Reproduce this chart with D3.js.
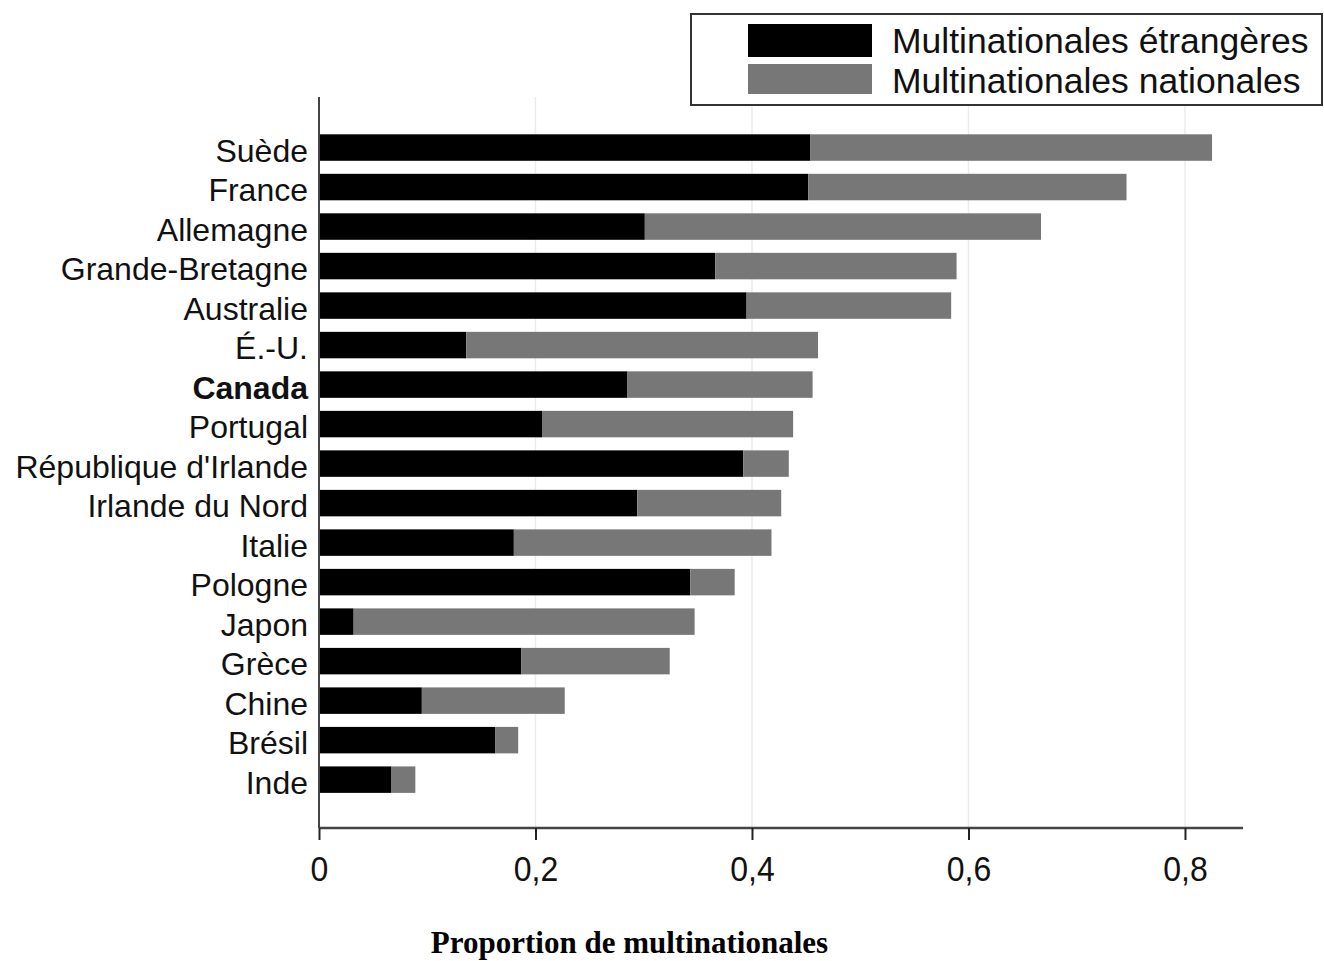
<!DOCTYPE html>
<html>
<head>
<meta charset="utf-8">
<script src="https://cdn.jsdelivr.net/npm/d3@7"></script>
<style>
  html, body { margin: 0; padding: 0; background: #fff; }
  svg { display: block; }
</style>
</head>
<body>
<svg id="chart" width="1324" height="961"></svg>
<script>
const countries = ["Suède", "France", "Allemagne", "Grande-Bretagne", "Australie", "É.-U.", "Canada", "Portugal", "République d'Irlande", "Irlande du Nord", "Italie", "Pologne", "Japon", "Grèce", "Chine", "Brésil", "Inde"];
const foreignMNE = [0.454, 0.452, 0.301, 0.366, 0.395, 0.136, 0.285, 0.206, 0.392, 0.294, 0.180, 0.343, 0.032, 0.187, 0.095, 0.163, 0.067];
const domesticMNE = [0.371, 0.294, 0.366, 0.223, 0.189, 0.325, 0.171, 0.232, 0.042, 0.133, 0.238, 0.041, 0.315, 0.137, 0.132, 0.021, 0.022];
const seriesNames = ["Multinationales étrangères", "Multinationales nationales"];
const seriesColors = ["#000000", "#777777"];
const xTicks = [0, 0.2, 0.4, 0.6, 0.8];
const xMax = 0.8536;
const highlighted = "Canada";
const xTitle = "Proportion de multinationales";

(function () {
const svg = d3.select("#chart");
const pLeft = 319, pRight = 1243, pTop = 97, pBottom = 828;

const x = d3.scaleLinear().domain([0, xMax]).range([pLeft, pRight]);
const y = d3.scaleBand().domain(countries).range([127.8, 799.4]).paddingInner(0.33).paddingOuter(0.165);

// gridlines
svg.append("g").selectAll("line").data(xTicks.filter(d => d > 0)).join("line")
  .attr("x1", d => x(d)).attr("x2", d => x(d))
  .attr("y1", pTop).attr("y2", pBottom)
  .attr("stroke", "#ececec").attr("stroke-width", 1.5);

// stacked bars
const rows = countries.map((c, i) => ({ c, a: foreignMNE[i], b: domesticMNE[i] }));
const stack = d3.stack().keys(["a", "b"])(rows);
svg.append("g").selectAll("g").data(stack).join("g")
  .attr("fill", (d, i) => seriesColors[i])
  .selectAll("rect").data(d => d).join("rect")
  .attr("x", d => x(d[0]))
  .attr("width", d => x(d[1]) - x(d[0]))
  .attr("y", d => y(d.data.c))
  .attr("height", y.bandwidth());

// y axis line
svg.append("line").attr("x1", pLeft).attr("x2", pLeft).attr("y1", pTop).attr("y2", pBottom)
  .attr("stroke", "#444").attr("stroke-width", 2);

// y labels
svg.append("g").selectAll("text").data(countries).join("text")
  .attr("x", 308)
  .attr("y", d => y(d) + y.bandwidth() / 2 + 14)
  .attr("text-anchor", "end")
  .attr("font-family", "Liberation Sans, Arial, sans-serif")
  .attr("font-size", 32)
  .attr("font-weight", d => d === highlighted ? "bold" : "normal")
  .attr("fill", "#111")
  .text(d => d);

// x axis
const xAxis = d3.axisBottom(x).tickValues(xTicks).tickSize(12).tickPadding(14)
  .tickFormat(d => d === 0 ? "0" : d3.format(".1f")(d).replace(".", ","));
const gx = svg.append("g").attr("transform", `translate(0,${pBottom})`).call(xAxis);
gx.select(".domain").attr("stroke", "#444").attr("stroke-width", 2.5).attr("d", `M${pLeft},0H${pRight}`);
gx.selectAll(".tick line").attr("stroke", "#222").attr("stroke-width", 2);
gx.selectAll(".tick text")
  .attr("font-family", "Liberation Sans, Arial, sans-serif")
  .attr("font-size", 32).attr("fill", "#111")
  .attr("transform", "scale(1,1.08)");

// x title
svg.append("text").attr("x", 629.5).attr("y", 953)
  .attr("text-anchor", "middle")
  .attr("font-family", "Liberation Serif, Times New Roman, serif")
  .attr("font-weight", "bold").attr("font-size", 31)
  .text(xTitle);

// legend
const lg = svg.append("g");
lg.append("rect").attr("x", 691).attr("y", 14).attr("width", 631).attr("height", 91)
  .attr("fill", "#fff").attr("stroke", "#333").attr("stroke-width", 2);
const legY = [24, 64];
const legH = [33, 30];
seriesNames.forEach((name, i) => {
  lg.append("rect").attr("x", 748).attr("y", legY[i]).attr("width", 124).attr("height", legH[i])
    .attr("fill", seriesColors[i]);
  lg.append("text").attr("x", 892).attr("y", legY[i] + 29)
    .attr("font-family", "Liberation Sans, Arial, sans-serif")
    .attr("font-size", 35.5).attr("fill", "#111")
    .text(name);
});
})();
</script>
</body>
</html>
